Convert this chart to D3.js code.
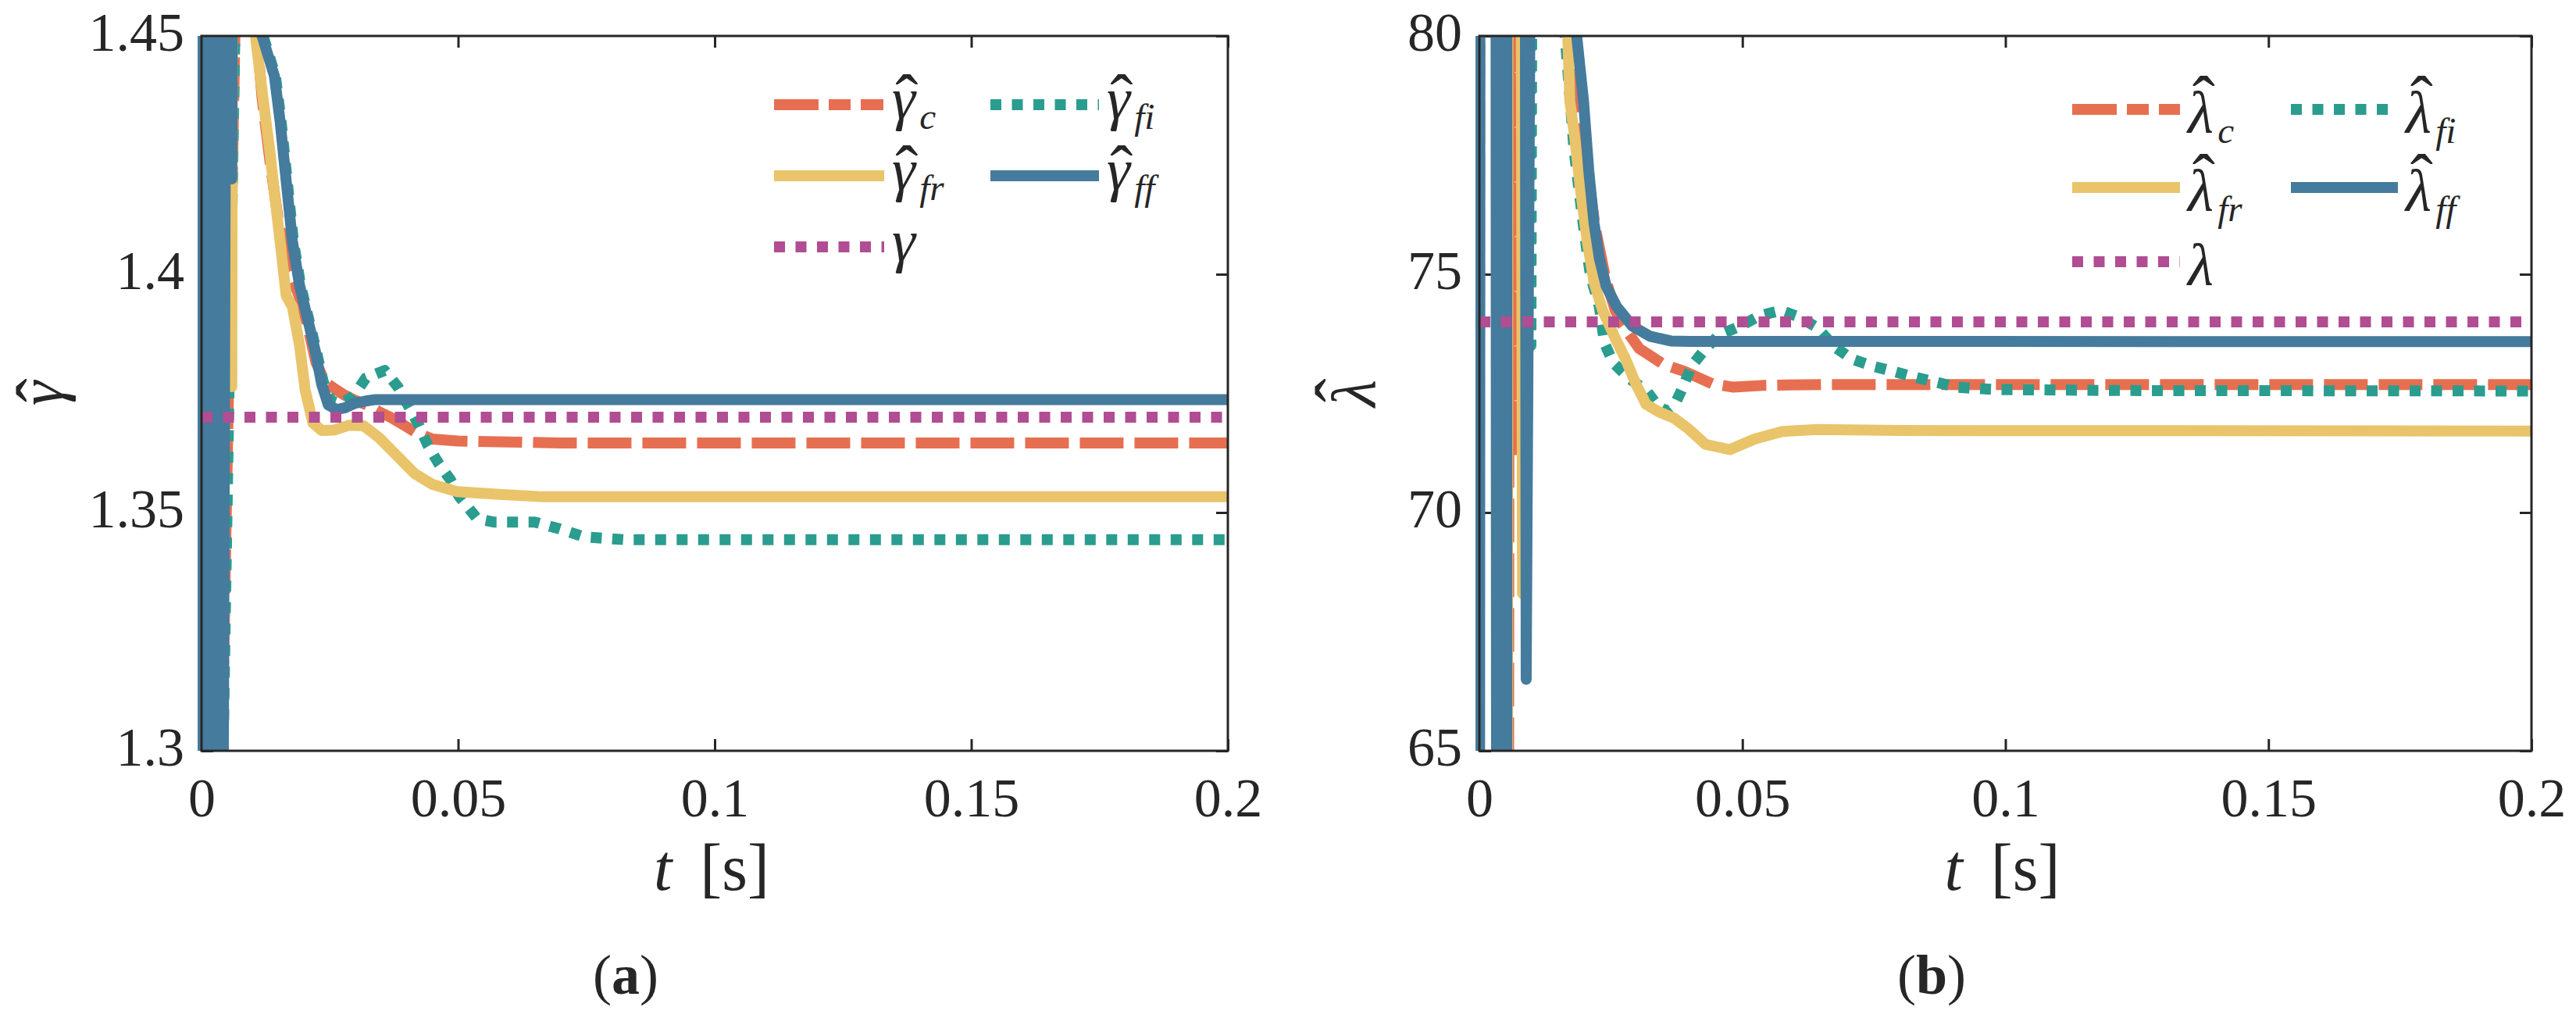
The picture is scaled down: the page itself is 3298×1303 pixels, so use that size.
<!DOCTYPE html>
<html>
<head>
<meta charset="utf-8">
<script src="https://cdn.jsdelivr.net/npm/d3@7"></script>
<style>
  body { margin: 0; background: #fff; }
  text { font-family: "Liberation Serif", "DejaVu Serif", serif; fill: #262626; }
</style>
</head>
<body>
<svg id="fig" width="3298" height="1303"></svg>
<script>
// tick values and labels
var tTicks = [0, 0.05, 0.1, 0.15, 0.2];
var tLabels = ["0", "0.05", "0.1", "0.15", "0.2"];
var gammaTicks = [1.3, 1.35, 1.4, 1.45];
var gammaLabels = ["1.3", "1.35", "1.4", "1.45"];
var lambdaTicks = [65, 70, 75, 80];
var lambdaLabels = ["65", "70", "75", "80"];

// (a) gamma estimates, [t, value]; values outside 1.3..1.45 are off the chart
var gammaC = [[0,1.31],[0.0035,1.27],[0.0070,1.48],[0.0100,1.46],[0.0118,1.4370],[0.0133,1.4240],[0.0150,1.4110],
  [0.0170,1.4010],[0.0190,1.3955],[0.0205,1.3900],[0.0223,1.3815],[0.0240,1.3775],[0.0256,1.3762],[0.0276,1.3748],
  [0.0300,1.3735],[0.0322,1.3726],[0.0345,1.3712],[0.0368,1.3700],[0.0392,1.3685],[0.0416,1.3669],[0.0450,1.3654],
  [0.0500,1.3650],[0.0600,1.3648],[0.0700,1.3646],[0.2,1.3646]];
var gammaFi = [[0,1.29],[0.0036,1.26],[0.0071,1.49],[0.0100,1.52],[0.0120,1.45],[0.0144,1.4416],[0.0155,1.4322],
  [0.0167,1.4196],[0.0179,1.4070],[0.0193,1.3977],[0.0207,1.3914],[0.0225,1.3833],[0.0237,1.3775],[0.0252,1.3735],
  [0.0270,1.3728],[0.0282,1.3735],[0.0296,1.3744],[0.0320,1.3782],[0.0357,1.3798],[0.0383,1.3763],[0.0404,1.3722],
  [0.0424,1.3682],[0.0441,1.3641],[0.0462,1.3603],[0.0485,1.3569],[0.0502,1.3534],[0.0537,1.3487],[0.0569,1.3480],
  [0.0649,1.3480],[0.0697,1.3466],[0.0745,1.3449],[0.0825,1.3443],[0.2,1.3443]];
var gammaFr = [[0,1.33],[0.0010,1.60],[0.0020,1.22],[0.0030,1.62],[0.0054,1.60],[0.0059,1.3764],[0.0062,1.60],
  [0.0095,1.55],[0.0105,1.45],[0.0118,1.4384],[0.0133,1.4259],[0.0142,1.4171],[0.0153,1.4070],[0.0165,1.3955],
  [0.0177,1.3932],[0.0191,1.3851],[0.0202,1.3757],[0.0217,1.3688],[0.0234,1.3672],[0.0258,1.3673],[0.0287,1.3683],
  [0.0316,1.3682],[0.0346,1.3657],[0.0381,1.3619],[0.0416,1.3581],[0.0450,1.3559],[0.0497,1.3544],[0.0580,1.3538],
  [0.0665,1.3533],[0.2,1.3533]];
var gammaFf = [[0,1.25],[0.0006,1.65],[0.0011,1.22],[0.0016,1.68],[0.0021,1.20],[0.0026,1.66],[0.0031,1.23],
  [0.0036,1.64],[0.0040,1.21],[0.0052,1.62],[0.0059,1.420],[0.0065,1.63],[0.0100,1.52],[0.0118,1.45],[0.0142,1.4416],
  [0.0153,1.4322],[0.0165,1.4196],[0.0177,1.4070],[0.0191,1.3977],[0.0205,1.3914],[0.0223,1.3833],[0.0234,1.3770],
  [0.0247,1.3726],[0.0263,1.3716],[0.0280,1.3720],[0.0298,1.3729],[0.0320,1.3734],[0.0339,1.3737],[0.0400,1.3737],
  [0.2,1.3737]];
var gammaTrue = [[0,1.37],[0.2,1.37]];

// (b) lambda estimates, [t, value]; values outside 65..80 are off the chart
var lambdaC = [[0,72],[0.0003,110],[0.0033,110],[0.0040,40],[0.0047,110],[0.0054,40],[0.0058,100],[0.0060,100],
  [0.0066,71.2],[0.0072,100],[0.0150,95],[0.0175,80],[0.0200,77.6],[0.0220,76.0],[0.0240,74.9],[0.0258,74.25],
  [0.0271,73.95],[0.0304,73.44],[0.0350,73.11],[0.0390,72.96],[0.0443,72.70],[0.0483,72.63],[0.0543,72.67],
  [0.0650,72.685],[0.2,72.685]];
var lambdaFi = [[0,76],[0.0003,110],[0.0033,110],[0.0037,40],[0.0042,110],[0.0047,40],[0.0051,110],[0.0092,100],
  [0.0098,73.5],[0.0104,100],[0.0150,95],[0.0163,80],[0.0180,77.6],[0.0198,76.0],[0.0211,74.98],[0.0228,74.32],
  [0.0238,73.55],[0.0254,73.15],[0.0284,72.82],[0.0317,72.56],[0.0340,72.23],[0.0357,72.12],[0.0370,72.23],
  [0.0387,72.63],[0.0403,73.07],[0.0427,73.40],[0.0456,73.73],[0.0496,73.91],[0.0533,74.13],[0.0573,74.24],
  [0.0609,74.10],[0.0642,73.88],[0.0675,73.48],[0.0708,73.22],[0.0748,73.07],[0.0788,72.96],[0.0824,72.85],
  [0.0867,72.74],[0.0907,72.63],[0.0947,72.60],[0.0987,72.58],[0.1200,72.56],[0.2,72.55]];
var lambdaFr = [[0,74],[0.0003,110],[0.0033,110],[0.0038,40],[0.0045,110],[0.0052,40],[0.0056,110],[0.0076,100],
  [0.0082,68.3],[0.0088,100],[0.0150,92],[0.0168,80],[0.0172,78.63],[0.0181,77.9],[0.0192,76.8],[0.0205,75.7],
  [0.0218,74.83],[0.0234,74.25],[0.0258,73.66],[0.0278,73.22],[0.0297,72.71],[0.0317,72.27],[0.0340,72.12],
  [0.0370,71.98],[0.0397,71.76],[0.0430,71.43],[0.0476,71.32],[0.0523,71.54],[0.0576,71.70],[0.0642,71.74],
  [0.0800,71.72],[0.2,71.71]];
var lambdaFf = [[0,50],[0.0002,110],[0.0030,110],[0.0034,40],[0.0038,110],[0.0043,40],[0.0047,110],[0.0052,40],
  [0.00525,110],[0.0086,95],[0.0089,66.5],[0.0101,90],[0.0150,92],[0.0185,80],[0.0198,78.63],[0.0208,77.17],
  [0.0218,76.07],[0.0228,75.34],[0.0241,74.75],[0.0261,74.32],[0.0291,73.91],[0.0324,73.70],[0.0364,73.60],
  [0.0400,73.59],[0.2,73.585]];
var lambdaTrue = [[0,74],[0.2,74]];

var lineW = 14;
var axisColor = "#262626";
var styles = {
  c:  { color: "#e76f51", dash: "56,14" },
  fi: { color: "#2a9d8f", dash: "14,13.5" },
  fr: { color: "#e9c46a", dash: null },
  ff: { color: "#457b9d", dash: null },
  tr: { color: "#b14d93", dash: "14,13.5" }
};

var svg = d3.select("#fig");
svg.append("rect").attr("width", 3298).attr("height", 1303).attr("fill", "#fff");

// italic symbol with optional subscript; the circumflex is a last tspan placed over the symbol
function mathSym(parent, x, y, size, sym, sub, hat, hatLift) {
  var t = parent.append("text").attr("x", x).attr("y", y).attr("font-size", size).attr("font-style", "italic");
  t.append("tspan").text(sym);
  if (sub) {
    t.append("tspan").attr("font-size", size * 0.62).attr("dy", size * 0.17).attr("dx", size * 0.07).text(sub);
  }
  if (hat) {
    var n = t.node();
    var a = n.getStartPositionOfChar(0).x, b = n.getEndPositionOfChar(0).x;
    var hs = size * 1.15;
    var cx = (a + b) / 2 + size * 0.05;
    // circumflex ink sits about 0.51em..0.67em above its baseline, centred at 0.167em
    t.append("tspan").attr("font-size", hs).attr("font-style", "normal")
      .attr("x", cx - 0.167 * hs)
      .attr("y", y - hatLift * size + 0.507 * hs)
      .text("\u02C6");
  }
  return t;
}

function drawPanel(p) {
  var x = d3.scaleLinear().domain([0, 0.2]).range([p.left, p.right]);
  var y = d3.scaleLinear().domain([p.yTicks[0], p.yTicks[p.yTicks.length - 1]]).range([p.bottom, p.top]);
  var g = svg.append("g");

  // ticks (inward, mirrored on top and right)
  var ax = [
    { a: d3.axisBottom(x).tickValues(tTicks).tickFormat(function(d, i) { return tLabels[i]; }), tr: [0, p.bottom], dir: "b" },
    { a: d3.axisTop(x).tickValues(tTicks).tickFormat(""), tr: [0, p.top] },
    { a: d3.axisLeft(y).tickValues(p.yTicks).tickFormat(function(d, i) { return p.yLabels[i]; }), tr: [p.left, 0], dir: "l" },
    { a: d3.axisRight(y).tickValues(p.yTicks).tickFormat(""), tr: [p.right, 0] }
  ];
  ax.forEach(function(o) {
    var ag = g.append("g").attr("transform", "translate(" + o.tr[0] + "," + o.tr[1] + ")")
      .call(o.a.tickSize(-15).tickSizeOuter(0));
    ag.select(".domain").remove();
    ag.attr("font-family", null).attr("font-size", null);
    ag.selectAll("line").attr("stroke", axisColor).attr("stroke-width", 3);
    var tx = ag.selectAll("text").attr("font-size", 70).attr("fill", axisColor);
    if (o.dir === "b") tx.attr("y", 84).attr("dy", null);
    if (o.dir === "l") tx.attr("x", -22).attr("dy", null).attr("y", 18);
  });

  var clipId = "clip-" + p.name;
  svg.append("clipPath").attr("id", clipId).append("rect")
    .attr("x", p.left - 5).attr("y", p.top).attr("width", p.right - p.left + 5).attr("height", p.bottom - p.top);

  var line = d3.line().x(function(d) { return x(d[0]); }).y(function(d) { return y(d[1]); });
  var plot = g.append("g").attr("clip-path", "url(#" + clipId + ")");
  p.series.forEach(function(s) {
    var st = styles[s.key];
    plot.append("path").datum(s.data)
      .attr("d", line)
      .attr("fill", "none")
      .attr("stroke", st.color)
      .attr("stroke-width", lineW)
      .attr("stroke-dasharray", st.dash)
      .attr("stroke-linejoin", "round")
      .attr("stroke-linecap", st.dash ? "butt" : "round");
  });

  // box
  g.append("rect").attr("x", p.left).attr("y", p.top)
    .attr("width", p.right - p.left).attr("height", p.bottom - p.top)
    .attr("fill", "none").attr("stroke", axisColor).attr("stroke-width", 3);

  // legend
  p.legend.forEach(function(L) {
    var st = styles[L.key];
    var dash = L.key === "c" ? "57,13,28,13,29" : st.dash;
    g.append("line").attr("x1", L.x).attr("x2", L.x + L.len).attr("y1", L.y).attr("y2", L.y)
      .attr("stroke", st.color).attr("stroke-width", lineW).attr("stroke-dasharray", dash);
    mathSym(g, L.x + L.len + 10, L.y + p.legBase, 76, p.sym, L.sub, L.hat, p.hatLift);
  });

  // y label, rotated
  var yl = g.append("g");
  var ys = mathSym(yl, 0, 0, 80, p.sym, null, true, p.hatLift);
  var w = ys.node().getStartPositionOfChar(0).x;
  w = ys.node().getEndPositionOfChar(0).x - w;
  yl.attr("transform", "translate(" + p.yLabX + "," + ((p.top + p.bottom) / 2 + w / 2) + ") rotate(-90)");

  // x label
  var xl = g.append("text").attr("x", (p.left + p.right) / 2 - 4).attr("y", 1139)
    .attr("text-anchor", "middle").attr("font-size", 84);
  xl.append("tspan").attr("font-style", "italic").text("t");
  xl.append("tspan").attr("dx", 36).text("[s]");

  var cap = g.append("text").attr("x", p.capX).attr("y", 1272).attr("text-anchor", "middle").attr("font-size", 72);
  cap.append("tspan").text("(");
  cap.append("tspan").attr("font-weight", "bold").text(p.cap);
  cap.append("tspan").text(")");
}

drawPanel({
  name: "a", left: 258, right: 1572, top: 46, bottom: 961,
  yTicks: gammaTicks, yLabels: gammaLabels,
  series: [{ key: "c", data: gammaC }, { key: "fi", data: gammaFi }, { key: "fr", data: gammaFr },
           { key: "ff", data: gammaFf }, { key: "tr", data: gammaTrue }],
  sym: "\u03B3", hatLift: 0.53, legBase: 18,
  legend: [
    { key: "c",  x: 991,  y: 134, len: 141, sub: "c",  hat: true },
    { key: "fi", x: 1268, y: 134, len: 139, sub: "fi", hat: true },
    { key: "fr", x: 991,  y: 225, len: 141, sub: "fr", hat: true },
    { key: "ff", x: 1268, y: 225, len: 139, sub: "ff", hat: true },
    { key: "tr", x: 991,  y: 316, len: 141, sub: null, hat: false }
  ],
  yLabX: 80, capX: 801, cap: "a"
});

drawPanel({
  name: "b", left: 1894, right: 3241, top: 46, bottom: 961,
  yTicks: lambdaTicks, yLabels: lambdaLabels,
  series: [{ key: "c", data: lambdaC }, { key: "fi", data: lambdaFi }, { key: "fr", data: lambdaFr },
           { key: "ff", data: lambdaFf }, { key: "tr", data: lambdaTrue }],
  sym: "\u03BB", hatLift: 0.74, legBase: 30,
  legend: [
    { key: "c",  x: 2653, y: 140, len: 138, sub: "c",  hat: true },
    { key: "fi", x: 2933, y: 140, len: 137, sub: "fi", hat: true },
    { key: "fr", x: 2653, y: 240, len: 138, sub: "fr", hat: true },
    { key: "ff", x: 2933, y: 240, len: 137, sub: "ff", hat: true },
    { key: "tr", x: 2653, y: 335, len: 138, sub: null, hat: false }
  ],
  yLabX: 1760, capX: 2473, cap: "b"
});
</script>
</body>
</html>
